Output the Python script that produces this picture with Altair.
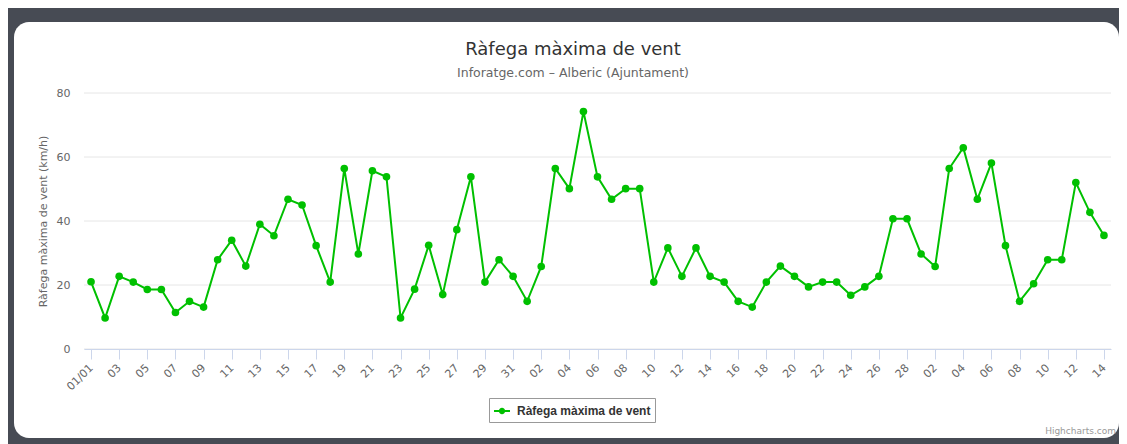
import altair as alt
import pandas as pd

# Categories: daily dates 1 Jan - 14 Mar
dates = list(pd.date_range("2017-01-01", "2017-03-14").strftime("%Y-%m-%d"))

jan = [21, 9.7, 22.7, 20.9, 18.6, 18.6, 11.4, 14.9, 13.1, 27.9,
       34.0, 25.9, 39.0, 35.4, 46.8, 45.0, 32.3, 20.9, 56.4, 29.7,
       55.7, 53.8, 9.7, 18.7, 32.4, 17.0, 37.3, 53.8, 20.9, 27.9, 22.7]
feb = [14.9, 25.8, 56.4, 50.1, 74.2, 53.8, 46.8, 50.1, 50.1, 20.9,
       31.6, 22.7, 31.6, 22.7, 20.9, 14.9, 13.1, 20.9, 25.9, 22.7,
       19.4, 20.9, 20.9, 16.8, 19.4, 22.7, 40.7, 40.7]
mar = [29.7, 25.8, 56.4, 62.9, 46.8, 58.1, 32.3, 14.9, 20.4, 27.9,
       27.9, 52.0, 42.7, 35.5]
values = jan + feb + mar

series_name = "Ràfega màxima de vent"
title_text = "Ràfega màxima de vent"
subtitle_text = "Inforatge.com – Alberic (Ajuntament)"
y_title = "Ràfega màxima de vent (km/h)"
y_ticks = [0, 20, 40, 60, 80]
x_ticks = dates[::2]
credits = "Highcharts.com"

GREEN = "#00c000"
FONT = "DejaVu Sans"

df = pd.DataFrame({"date": dates, "value": values, "serie": series_name})
grid_df = pd.DataFrame({"tick": y_ticks})
one = pd.DataFrame({"a": [0]})

W, H = 1027, 256

card = alt.Chart(one).mark_rect(fill="white", cornerRadius=15).encode(
    x=alt.value(-70), x2=alt.value(1035), y=alt.value(-71), y2=alt.value(345)
)

grid = alt.Chart(grid_df).mark_rule(color="#e6e6e6", strokeWidth=1).encode(
    y=alt.Y("tick:Q", scale=alt.Scale(domain=[0, 80], nice=False))
)

legend_path = ("M-1,0L1,0M-0.27,0A0.27,0.27,0,1,1,0.27,0"
               "A0.27,0.27,0,1,1,-0.27,0Z")

line = alt.Chart(df).mark_line(
    strokeWidth=2,
    point=alt.OverlayMarkDef(filled=True, size=58, opacity=1),
).encode(
    x=alt.X("date:O",
            scale=alt.Scale(type="point", padding=0.5),
            axis=alt.Axis(
                title=None, values=x_ticks, zindex=1,
                labelExpr="datum.value == '2017-01-01' ? '01/01' : slice(datum.value, 8)",
                labelAngle=-45, labelAlign="right", labelBaseline="middle",
                labelPadding=7, labelColor="#666", labelFontSize=11, labelFont=FONT,
                domainColor="#ccd6eb", tickColor="#ccd6eb", tickSize=10,
                grid=False, labelOverlap=False, labelBound=False)),
    y=alt.Y("value:Q",
            scale=alt.Scale(domain=[0, 80], nice=False, zero=True),
            axis=alt.Axis(
                title=y_title, values=y_ticks, domain=False, ticks=False,
                grid=False, zindex=1,
                labelPadding=14, labelColor="#666", labelFontSize=11, labelFont=FONT,
                titleColor="#666", titleFontSize=11, titleFont=FONT,
                titleFontWeight="normal", titlePadding=8)),
    color=alt.Color("serie:N",
                    scale=alt.Scale(range=[GREEN]),
                    legend=alt.Legend(
                        title=None, orient="none", legendX=405, legendY=305,
                        direction="horizontal",
                        strokeColor="#999", fillColor="white", padding=4,
                        cornerRadius=0,
                        symbolType=legend_path, symbolSize=256,
                        symbolStrokeWidth=2, symbolStrokeColor=GREEN,
                        symbolFillColor=GREEN,
                        labelFont="Liberation Sans", labelFontSize=12,
                        labelFontWeight="bold",
                        labelColor="#333", labelOffset=6)),
)

title_mark = alt.Chart(one).mark_text(
    text=title_text, align="center", baseline="alphabetic",
    fontSize=18, color="#333", font=FONT
).encode(x=alt.value(489), y=alt.value(-38))

subtitle_mark = alt.Chart(one).mark_text(
    text=subtitle_text, align="center", baseline="alphabetic",
    fontSize=12.5, color="#666", font=FONT
).encode(x=alt.value(489), y=alt.value(-16))

credit = alt.Chart(one).mark_text(
    text=credits, align="right", baseline="alphabetic",
    fontSize=9, color="#999", font=FONT
).encode(x=alt.value(1032), y=alt.value(341))

chart = alt.layer(card, grid, line, title_mark, subtitle_mark, credit).properties(
    width=W, height=H,
    background="#474b54",
    autosize=alt.AutoSizeParams(type="none"),
    padding={"left": 76, "top": 85, "right": 8, "bottom": 95},
).configure_view(stroke=None)

chart.save("out.html", embed_options={"renderer": "svg", "actions": False})
